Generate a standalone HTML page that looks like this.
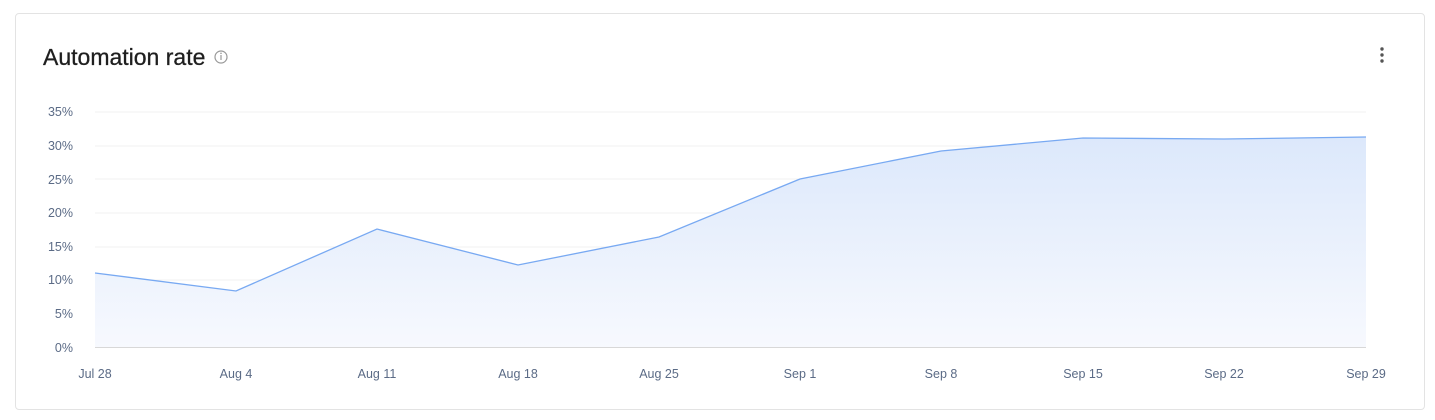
<!DOCTYPE html>
<html><head><style>
body{margin:0;background:#fff;width:1435px;height:420px;overflow:hidden;font-family:"Liberation Sans",sans-serif}
.card{position:absolute;left:15px;top:13px;width:1410px;height:397px;border:1px solid #e3e3e3;border-radius:4px;box-sizing:border-box}
.t{position:absolute;left:43px;top:44px;font-size:23px;color:#1f1f1f;-webkit-text-stroke:0.3px #1f1f1f}
</style></head><body>
<div class="card"></div>
<div class="t">Automation rate</div>
<svg width="1435" height="420" style="position:absolute;left:0;top:0">
<circle cx="221" cy="57" r="6" fill="none" stroke="#999" stroke-width="1.2"/>
<line x1="221" y1="55" x2="221" y2="60" stroke="#999" stroke-width="1.2"/><circle cx="221" cy="53.3" r="0.8" fill="#999"/>
<circle cx="1382" cy="49" r="1.7" fill="#555"/><circle cx="1382" cy="55" r="1.7" fill="#555"/><circle cx="1382" cy="61" r="1.7" fill="#555"/>
<defs><linearGradient id="g" x1="0" y1="0" x2="0" y2="1"><stop offset="0" stop-color="#dce8fb"/><stop offset="1" stop-color="#f7f9fe"/></linearGradient></defs>
<g stroke="#f0f0f0" stroke-width="1">
<line x1="95" x2="1366" y1="112" y2="112"/><line x1="95" x2="1366" y1="146" y2="146"/><line x1="95" x2="1366" y1="179" y2="179"/><line x1="95" x2="1366" y1="213" y2="213"/><line x1="95" x2="1366" y1="247" y2="247"/><line x1="95" x2="1366" y1="280" y2="280"/><line x1="95" x2="1366" y1="314" y2="314"/>
</g>
<polygon fill="url(#g)" points="95,347 95,273 236,291 377,229 518,265 659,237 800,179 941,151 1083,138 1224,139 1366,137 1366,347"/>
<polyline fill="none" stroke="#78a9f2" stroke-width="1.3" points="95,273 236,291 377,229 518,265 659,237 800,179 941,151 1083,138 1224,139 1366,137"/>
<line x1="95" x2="1366" y1="347.5" y2="347.5" stroke="#d8d8d8"/>
<g font-size="12.5" fill="#5b6b86" text-anchor="end">
<text x="73" y="116">35%</text><text x="73" y="150">30%</text><text x="73" y="184">25%</text><text x="73" y="217">20%</text><text x="73" y="251">15%</text><text x="73" y="284">10%</text><text x="73" y="318">5%</text><text x="73" y="352">0%</text>
</g>
<g font-size="12.5" fill="#5b6b86" text-anchor="middle">
<text x="95" y="378">Jul 28</text><text x="236" y="378">Aug 4</text><text x="377" y="378">Aug 11</text><text x="518" y="378">Aug 18</text><text x="659" y="378">Aug 25</text><text x="800" y="378">Sep 1</text><text x="941" y="378">Sep 8</text><text x="1083" y="378">Sep 15</text><text x="1224" y="378">Sep 22</text><text x="1366" y="378">Sep 29</text>
</g>
</svg>
</body></html>
